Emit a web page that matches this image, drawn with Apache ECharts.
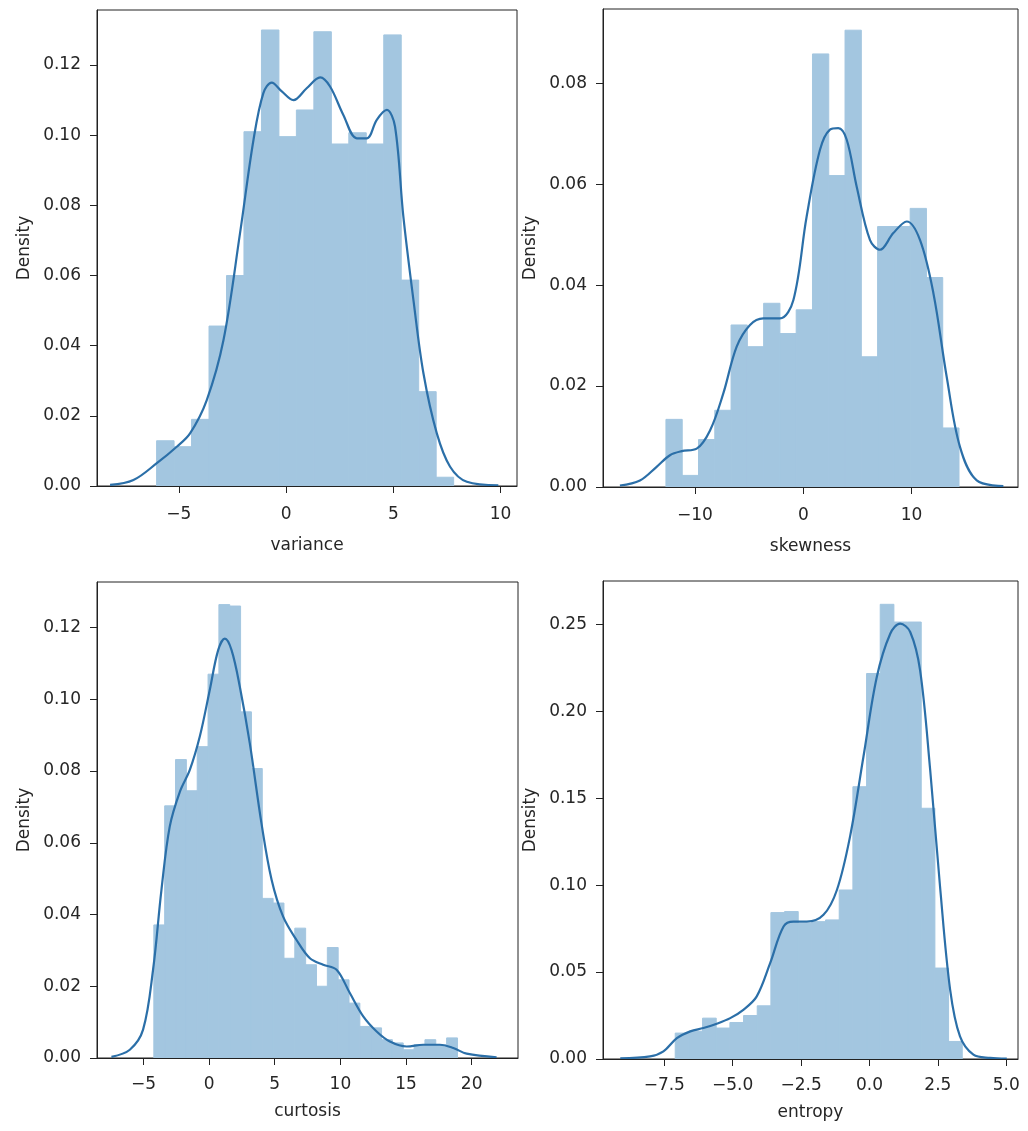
<!DOCTYPE html>
<html>
<head>
<meta charset="utf-8">
<script src="https://cdn.jsdelivr.net/npm/echarts@6/dist/echarts.min.js"></script>
<style>
  html, body { margin: 0; padding: 0; background: #fff; }
  #main { width: 1028px; height: 1131px; }
</style>
</head>
<body>
<div id="main"></div>
<script>
// histogram bins: first edge, bin width, densities
var varianceStart = -6.04, varianceWidth = 0.815;
var varianceHeights = [0.0129, 0.0112, 0.019, 0.0456, 0.060, 0.101, 0.130, 0.0996, 0.1072,
    0.1295, 0.0975, 0.1007, 0.0975, 0.1286, 0.0587, 0.0269, 0.0025];
var varianceKde = [[-8.21, 0.0003], [-7.12, 0.0017], [-6.03, 0.0065], [-5.1, 0.0112], [-4.48, 0.015],
    [-3.70, 0.0245], [-2.92, 0.0416], [-2.15, 0.072], [-1.52, 0.0987], [-1.06, 0.112], [-0.67, 0.115],
    [-0.20, 0.1125], [0.34, 0.110], [0.96, 0.1134], [1.59, 0.1165], [2.05, 0.1139], [2.67, 0.1058],
    [3.30, 0.0991], [3.76, 0.0991], [4.23, 0.1044], [4.70, 0.1072], [5.08, 0.1025], [5.47, 0.0768],
    [5.94, 0.053], [6.41, 0.032], [7.03, 0.015], [7.65, 0.0055], [8.43, 0.0012], [9.90, 0.0002]];

var skewnessStart = -12.68, skewnessWidth = 1.503;
var skewnessHeights = [0.0134, 0.0023, 0.0094, 0.0152, 0.0321, 0.0278, 0.0364, 0.0304, 0.0351,
    0.0858, 0.0617, 0.0905, 0.0258, 0.0516, 0.0516, 0.0552, 0.0415, 0.0117];
var skewnessKde = [[-16.93, 0.0003], [-15.08, 0.0013], [-13.54, 0.004], [-12.31, 0.0063], [-11.23, 0.0071],
    [-9.84, 0.0076], [-8.61, 0.0112], [-7.39, 0.0185], [-6.15, 0.0278], [-4.92, 0.0321], [-3.69, 0.0334],
    [-2.15, 0.0334], [-0.92, 0.037], [0.31, 0.0536], [1.54, 0.0668], [2.46, 0.0708], [3.23, 0.0711],
    [4.01, 0.0688], [4.93, 0.0595], [6.16, 0.0489], [7.08, 0.047], [8.31, 0.0503], [9.55, 0.0526],
    [10.78, 0.0489], [12.01, 0.0384], [13.24, 0.0218], [14.47, 0.0079], [16.01, 0.0013], [18.47, 0.0002]];

var curtosisStart = -4.21, curtosisWidth = 0.826;
var curtosisHeights = [0.0371, 0.0703, 0.0832, 0.0745, 0.0868, 0.107, 0.1264, 0.126, 0.0965, 0.0807,
    0.0445, 0.0432, 0.0278, 0.0362, 0.026, 0.020, 0.0308, 0.0218, 0.0153, 0.0088, 0.0084, 0.0051,
    0.0042, 0.0023, 0.0037, 0.0051, 0.0037, 0.0056];
var curtosisKde = [[-7.44, 0.0003], [-6.04, 0.0023], [-5.03, 0.0079], [-4.27, 0.0246], [-3.63, 0.0469],
    [-3.0, 0.0645], [-2.23, 0.0742], [-1.47, 0.0803], [-0.71, 0.0896], [0.05, 0.1026], [0.69, 0.1137],
    [1.20, 0.1169], [1.71, 0.1137], [2.34, 0.1035], [3.10, 0.0877], [3.99, 0.0654], [4.76, 0.0497],
    [5.64, 0.0394], [6.66, 0.0329], [7.68, 0.0278], [8.69, 0.026], [9.71, 0.0246], [10.72, 0.0181],
    [11.74, 0.0116], [12.76, 0.0074], [13.77, 0.0046], [15.05, 0.0032], [16.31, 0.0037], [17.58, 0.0037],
    [18.6, 0.0028], [19.62, 0.0012], [21.9, 0.0002]];

var entropyStart = -7.10, entropyWidth = 0.4996;
var entropyHeights = [0.0149, 0.016, 0.0235, 0.0178, 0.021, 0.025, 0.0306, 0.0842, 0.0848, 0.078,
    0.079, 0.080, 0.0972, 0.1566, 0.2217, 0.2615, 0.2513, 0.2513, 0.1442, 0.0523, 0.0101];
var entropyKde = [[-9.11, 0.0004], [-8.02, 0.0015], [-7.53, 0.0044], [-7.04, 0.012], [-6.55, 0.0159],
    [-6.07, 0.0178], [-5.58, 0.0203], [-5.09, 0.0235], [-4.61, 0.0283], [-4.12, 0.036], [-3.63, 0.0551],
    [-3.14, 0.0762], [-2.78, 0.079], [-2.29, 0.079], [-1.68, 0.0829], [-1.19, 0.0972], [-0.71, 0.1279],
    [-0.22, 0.1738], [0.27, 0.2198], [0.76, 0.2446], [1.12, 0.2504], [1.49, 0.2456], [1.85, 0.2236],
    [2.22, 0.1662], [2.58, 0.0992], [2.95, 0.0398], [3.31, 0.013], [3.80, 0.0025], [4.41, 0.0006], [5.02, 0.0002]];

// tick labels
var varianceTicks = [-5, 0, 5, 10];
var skewnessTicks = [-10, 0, 10];
var curtosisTicks = [-5, 0, 5, 10, 15, 20];
var entropyTicks = [-7.5, -5.0, -2.5, 0.0, 2.5, 5.0];
var densityTicksA = [0, 0.02, 0.04, 0.06, 0.08, 0.10, 0.12];
var densityTicksB = [0, 0.02, 0.04, 0.06, 0.08];
var densityTicksC = [0, 0.05, 0.10, 0.15, 0.20, 0.25];

var panels = [
    { name: 'variance', start: varianceStart, width: varianceWidth, heights: varianceHeights, kde: varianceKde,
      xTicks: varianceTicks, yTicks: densityTicksA, xMin: -8.82, xMax: 10.77, yMax: 0.1357, dec: 0,
      grid: { left: 97, top: 10, width: 420, height: 476 }, labelGap: 20, nameGap: 51 },
    { name: 'skewness', start: skewnessStart, width: skewnessWidth, heights: skewnessHeights, kde: skewnessKde,
      xTicks: skewnessTicks, yTicks: densityTicksB, xMin: -18.49, xMax: 19.82, yMax: 0.0947, dec: 0,
      grid: { left: 603, top: 9, width: 415, height: 478 }, labelGap: 20, nameGap: 51 },
    { name: 'curtosis', start: curtosisStart, width: curtosisWidth, heights: curtosisHeights, kde: curtosisKde,
      xTicks: curtosisTicks, yTicks: densityTicksA, xMin: -8.54, xMax: 23.53, yMax: 0.1327, dec: 0,
      grid: { left: 97, top: 582, width: 421, height: 476 }, labelGap: 18, nameGap: 45 },
    { name: 'entropy', start: entropyStart, width: entropyWidth, heights: entropyHeights, kde: entropyKde,
      xTicks: entropyTicks, yTicks: densityTicksC, xMin: -9.74, xMax: 5.43, yMax: 0.2749, dec: 1,
      grid: { left: 603, top: 581, width: 415, height: 478 }, labelGap: 18, nameGap: 45 }
];

var barColor = '#a3c6e0';
var lineColor = '#2b6fa8';
var textColor = '#262626';
var font = 'DejaVu Sans';

function minus(s) { return s.replace('-', '\u2212'); }

var grids = [], xAxes = [], yAxes = [], series = [];

panels.forEach(function (p, i) {
    grids.push(Object.assign({ show: true, borderColor: '#222', borderWidth: 1, backgroundColor: 'transparent' }, p.grid));
    xAxes.push({
        type: 'value', gridIndex: i, min: p.xMin, max: p.xMax, z: 5,
        name: p.name, nameLocation: 'middle', nameGap: p.nameGap,
        nameTextStyle: { color: textColor, fontSize: 17, fontFamily: font },
        splitLine: { show: false },
        axisLine: { show: true, onZero: false, lineStyle: { color: '#222', width: 1 } },
        axisTick: { show: true, length: 7, lineStyle: { color: '#222' }, customValues: p.xTicks },
        axisLabel: { color: textColor, fontSize: 17, fontFamily: font, margin: p.labelGap, customValues: p.xTicks,
            formatter: (function (d) { return function (v) { return minus(v.toFixed(d)); }; })(p.dec) }
    });
    yAxes.push({
        type: 'value', gridIndex: i, min: 0, max: p.yMax, z: 5,
        name: 'Density', nameLocation: 'middle', nameGap: 64, nameRotate: 90,
        nameTextStyle: { color: textColor, fontSize: 17, fontFamily: font },
        splitLine: { show: false },
        axisLine: { show: true, onZero: false, lineStyle: { color: '#222', width: 1 } },
        axisTick: { show: true, length: 7, lineStyle: { color: '#222' }, customValues: p.yTicks },
        axisLabel: { color: textColor, fontSize: 17, fontFamily: font, margin: 16, customValues: p.yTicks,
            formatter: function (v) { return v.toFixed(2); } }
    });
    var bins = p.heights.map(function (h, k) {
        return [p.start + k * p.width, p.start + (k + 1) * p.width, h];
    });
    series.push({
        type: 'custom', xAxisIndex: i, yAxisIndex: i, z: 1,
        encode: { x: [0, 1], y: 2 },
        data: bins,
        renderItem: function (params, api) {
            var a = api.coord([api.value(0), 0]);
            var b = api.coord([api.value(1), api.value(2)]);
            return { type: 'rect', shape: { x: a[0], y: b[1], width: b[0] - a[0], height: a[1] - b[1] },
                style: { fill: barColor, stroke: barColor, lineWidth: 1 } };
        }
    });
    series.push({
        type: 'line', xAxisIndex: i, yAxisIndex: i, z: 3,
        data: p.kde, smooth: 0.35, showSymbol: false,
        lineStyle: { color: lineColor, width: 2.2 }
    });
});

var myChart = echarts.init(document.getElementById('main'));
myChart.setOption({
    animation: false,
    backgroundColor: '#fff',
    grid: grids,
    xAxis: xAxes,
    yAxis: yAxes,
    series: series
});
</script>
</body>
</html>
